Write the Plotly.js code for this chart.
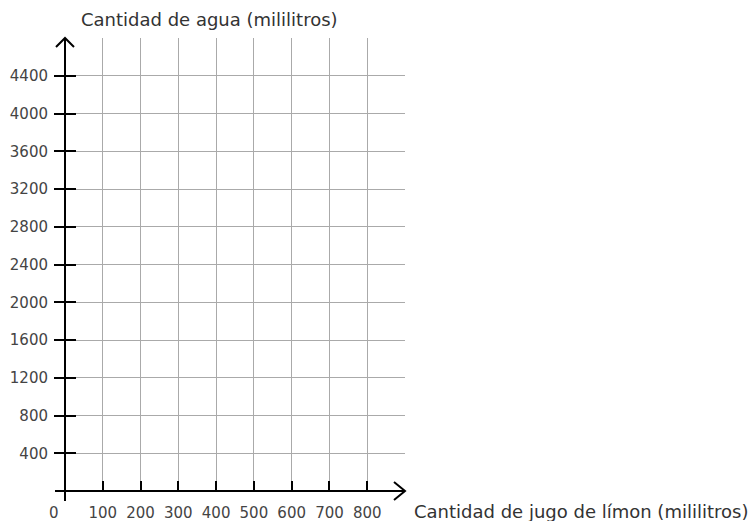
<!DOCTYPE html>
<html>
<head>
<meta charset="utf-8">
<script src="https://cdn.plot.ly/plotly-3.0.1.min.js"></script>
<style>html,body{margin:0;padding:0;background:#fff;}#chart{width:753px;height:521px;}</style>
</head>
<body>
<div id="chart"></div>
<script>
// Data (empty coordinate grid)
const xTickValues = [100, 200, 300, 400, 500, 600, 700, 800];
const xTickLabels = ['100', '200', '300', '400', '500', '600', '700', '800'];
const yTickValues = [400, 800, 1200, 1600, 2000, 2400, 2800, 3200, 3600, 4000, 4400];
const yTickLabels = ['400', '800', '1200', '1600', '2000', '2400', '2800', '3200', '3600', '4000', '4400'];
const xRange = [0, 900];
const yRange = [0, 4800];
const xTitle = 'Cantidad de jugo de límon (mililitros)';
const yTitle = 'Cantidad de agua (mililitros)';
const originLabel = '0';

const FONT = 'DejaVu Sans, sans-serif';
const GRID = '#aaaaaa';
const LABEL = '#444444';
const TITLE = '#333333';
const TICKSIZE = 15;

const traces = [
  {x: [], y: [], type: 'scatter', mode: 'markers', xaxis: 'x', yaxis: 'y', hoverinfo: 'skip', showlegend: false},
  {x: [], y: [], type: 'scatter', mode: 'markers', xaxis: 'x', yaxis: 'y2', hoverinfo: 'skip', showlegend: false}
];

const layout = {
  width: 753, height: 521,
  margin: {l: 65, r: 348, t: 38, b: 30, pad: 0},
  paper_bgcolor: '#fff', plot_bgcolor: '#fff',
  showlegend: false,
  font: {family: FONT, size: TICKSIZE, color: LABEL},
  xaxis: {
    range: xRange, fixedrange: true,
    tickmode: 'array', tickvals: xTickValues, ticktext: xTickLabels,
    ticks: 'inside', ticklen: 10, tickwidth: 2, tickcolor: '#000',
    showgrid: true, gridcolor: GRID, gridwidth: 1,
    minor: {tickmode: 'array', tickvals: [900], showgrid: true, gridcolor: GRID, gridwidth: 1, ticks: ''},
    zeroline: false, showline: false,
    tickfont: {family: FONT, size: TICKSIZE, color: LABEL},
    ticklabelstandoff: 11
  },
  yaxis: {
    range: yRange, fixedrange: true,
    tickmode: 'array', tickvals: yTickValues, ticktext: yTickLabels,
    ticks: 'outside', ticklen: 10, tickwidth: 2, tickcolor: '#000',
    showgrid: true, gridcolor: GRID, gridwidth: 1,
    minor: {tickmode: 'array', tickvals: [4800], showgrid: true, gridcolor: GRID, gridwidth: 1, ticks: ''},
    zeroline: false, showline: false,
    tickfont: {family: FONT, size: TICKSIZE, color: LABEL},
    ticklabelstandoff: 3
  },
  yaxis2: {
    overlaying: 'y', anchor: 'x', side: 'left',
    range: yRange, fixedrange: true,
    tickmode: 'array', tickvals: yTickValues,
    ticks: 'inside', ticklen: 11, tickwidth: 2, tickcolor: '#000',
    showticklabels: false, showgrid: false, zeroline: false, showline: false
  },
  shapes: [
    {type: 'line', xref: 'paper', yref: 'paper', x0: -10/340, x1: 1, y0: 0, y1: 0, line: {color: '#000', width: 2}},
    {type: 'line', xref: 'paper', yref: 'paper', x0: 0, x1: 0, y0: -10/453, y1: 1, line: {color: '#000', width: 2}},
    {type: 'path', xref: 'paper', yref: 'paper',
     path: 'M ' + (1 - 11/340) + ',' + (9/453) + ' L 1,0 L ' + (1 - 11/340) + ',' + (-9/453),
     line: {color: '#000', width: 2}},
    {type: 'path', xref: 'paper', yref: 'paper',
     path: 'M ' + (-9/340) + ',' + (1 - 9/453) + ' L 0,1 L ' + (9/340) + ',' + (1 - 9/453),
     line: {color: '#000', width: 2}}
  ],
  annotations: [
    {text: yTitle, xref: 'paper', yref: 'paper', x: 14/340, y: 1 + 19/453, xanchor: 'left', yanchor: 'middle',
     showarrow: false, font: {family: FONT, size: 18, color: TITLE}},
    {text: xTitle, xref: 'paper', yref: 'paper', x: 1 + 7/340, y: -20/453, xanchor: 'left', yanchor: 'middle',
     showarrow: false, font: {family: FONT, size: 18, color: TITLE}},
    {text: originLabel, xref: 'paper', yref: 'paper', x: -11/340, y: -22/453, xanchor: 'center', yanchor: 'middle',
     showarrow: false, font: {family: FONT, size: TICKSIZE, color: LABEL}}
  ]
};

Plotly.newPlot('chart', traces, layout, {staticPlot: true, displayModeBar: false});
</script>
</body>
</html>
